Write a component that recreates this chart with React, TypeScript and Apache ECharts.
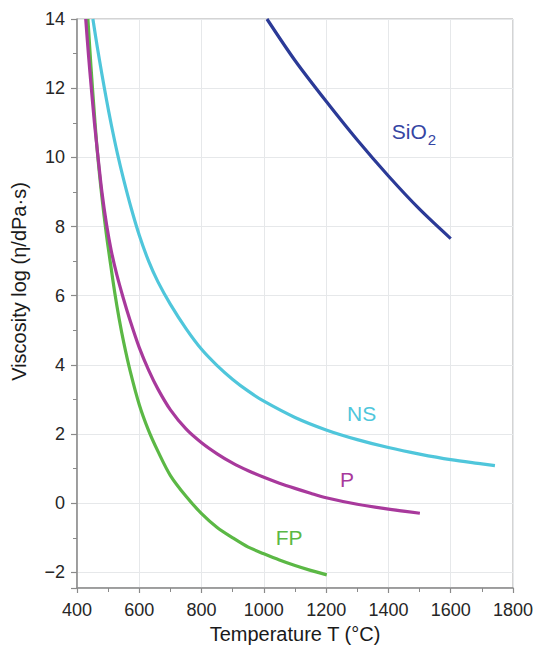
import React, { useEffect, useRef } from 'react';
import * as echarts from 'echarts';

// Temperature (°C) and log viscosity values
const fpT = [435, 445, 455, 466, 480, 494, 508, 521, 535, 550, 570, 600, 630, 660, 700, 750, 800, 850, 900, 950, 1000, 1050, 1100, 1150, 1202];
const fpV = [14.0, 12.6, 11.35, 10.1, 8.85, 7.8, 6.9, 6.1, 5.35, 4.65, 3.85, 2.85, 2.1, 1.5, 0.8, 0.2, -0.3, -0.7, -1.0, -1.27, -1.46, -1.64, -1.8, -1.94, -2.07];

const pT = [428, 437, 446, 456, 467, 480, 495, 510, 528, 548, 570, 600, 630, 660, 700, 750, 800, 850, 900, 950, 1000, 1050, 1100, 1150, 1200, 1300, 1400, 1501];
const pV = [14.0, 12.95, 12.0, 11.0, 10.05, 9.0, 8.05, 7.3, 6.6, 5.95, 5.3, 4.5, 3.85, 3.3, 2.7, 2.15, 1.75, 1.43, 1.16, 0.94, 0.75, 0.58, 0.43, 0.29, 0.16, -0.03, -0.17, -0.29];

const nsT = [451, 465, 480, 495, 510, 530, 550, 575, 600, 630, 660, 700, 750, 800, 850, 900, 950, 1000, 1100, 1200, 1300, 1400, 1500, 1600, 1700, 1742];
const nsV = [14.0, 13.2, 12.4, 11.65, 10.95, 10.1, 9.35, 8.5, 7.75, 7.0, 6.4, 5.75, 5.05, 4.45, 3.98, 3.58, 3.24, 2.95, 2.48, 2.12, 1.84, 1.61, 1.42, 1.26, 1.14, 1.09];

const sio2T = [1010, 1100, 1200, 1300, 1400, 1500, 1600];
const sio2V = [14, 12.8, 11.62, 10.5, 9.46, 8.5, 7.65];

// label anchor positions (data coordinates)
const labelSiO2 = [1482, 10.76];
const labelNS = [1314, 2.6];
const labelP = [1267, 0.7];
const labelFP = [1081, -1.0];

const yMajorTicks = [-2, 0, 2, 4, 6, 8, 10, 12, 14];

const FONT = "'Liberation Sans', Arial, Helvetica, sans-serif";
const C_FP = '#5BB845';
const C_P = '#A8399C';
const C_NS = '#4FC6DB';
const C_SIO2 = '#2B3A97';

const pairs = (t: number[], v: number[]) => t.map((x, i) => [x, v[i]]);

function lineSeries(name: string, t: number[], v: number[], color: string, label: number[], text: string, rich?: any) {
  return {
    name,
    type: 'line',
    data: pairs(t, v),
    smooth: 0.3,
    symbol: 'none',
    showSymbol: false,
    lineStyle: { color, width: 3.2 },
    markPoint: {
      symbol: 'circle',
      symbolSize: 0,
      silent: true,
      itemStyle: { color: 'transparent' },
      data: [{ coord: label, value: 0 }],
      label: {
        show: true,
        position: 'inside',
        formatter: text,
        color,
        fontFamily: FONT,
        fontSize: 21,
        rich,
      },
    },
  };
}

export default function App() {
  const ref = useRef<HTMLDivElement>(null);
  useEffect(() => {
    if (!ref.current) return;
    const chart = echarts.init(ref.current, null, { renderer: 'svg' });
    const axisLine = { show: true, onZero: false, lineStyle: { color: '#8a8a8a', width: 1.5 } };
    chart.setOption({
      animation: false,
      backgroundColor: '#ffffff',
      grid: {
        left: 77,
        right: 23,
        top: 19,
        bottom: 64,
        show: true,
        borderColor: '#a8a8a8',
        borderWidth: 1,
        containLabel: false,
        outerBoundsMode: 'none',
      },
      xAxis: {
        type: 'value',
        min: 400,
        max: 1800,
        interval: 200,
        name: 'Temperature T (°C)',
        nameLocation: 'middle',
        nameGap: 35,
        nameTextStyle: { fontFamily: FONT, fontSize: 20, color: '#1a1a1a' },
        axisLine,
        axisTick: { show: true, inside: false, length: 5, lineStyle: { color: '#8a8a8a', width: 1.2 } },
        minorTick: { show: true, splitNumber: 2, length: 4, lineStyle: { color: '#8a8a8a', width: 1 } },
        splitLine: { show: true, lineStyle: { color: '#e6e8ea', width: 1 } },
        minorSplitLine: { show: false },
        axisLabel: {
          fontFamily: FONT,
          fontSize: 18,
          color: '#262626',
          margin: 13,
          showMinLabel: true,
          showMaxLabel: true,
          formatter: (v: number) => String(v),
        },
      },
      yAxis: {
        type: 'value',
        min: -2.45,
        max: 14,
        splitNumber: 8,
        name: 'Viscosity log (η/dPa·s)',
        nameLocation: 'middle',
        nameGap: 48,
        nameTextStyle: { fontFamily: FONT, fontSize: 20, color: '#1a1a1a', padding: [0, 0, 0, 44] },
        axisLine,
        axisTick: { show: true, inside: false, length: 6, lineStyle: { color: '#8a8a8a', width: 1.2 } },
        minorTick: { show: true, splitNumber: 2, length: 4, lineStyle: { color: '#8a8a8a', width: 1 } },
        splitLine: { show: true, lineStyle: { color: '#e6e8ea', width: 1 } },
        minorSplitLine: { show: false },
        axisLabel: {
          fontFamily: FONT,
          fontSize: 18,
          color: '#262626',
          margin: 12,
          formatter: (v: number) => {
            const r = Math.round(v * 100) / 100;
            if (!yMajorTicks.includes(r)) return '';
            return r < 0 ? '\u2212' + Math.abs(r) : String(r);
          },
        },
      },
      series: [
        lineSeries('FP', fpT, fpV, C_FP, labelFP, 'FP'),
        lineSeries('P', pT, pV, C_P, labelP, 'P'),
        lineSeries('NS', nsT, nsV, C_NS, labelNS, 'NS'),
        lineSeries('SiO2', sio2T, sio2V, C_SIO2, labelSiO2, '{a|SiO}{b|2}', {
          a: { fontFamily: FONT, fontSize: 21, color: '#3545A3' },
          b: { fontFamily: FONT, fontSize: 15, color: '#3545A3', padding: [16, 0, 0, 1] },
        }),
      ],
    });
    return () => chart.dispose();
  }, []);
  return (
    <div
      ref={ref}
      style={{ position: 'fixed', left: 0, top: 0, width: 536, height: 652, background: '#fff' }}
    />
  );
}
